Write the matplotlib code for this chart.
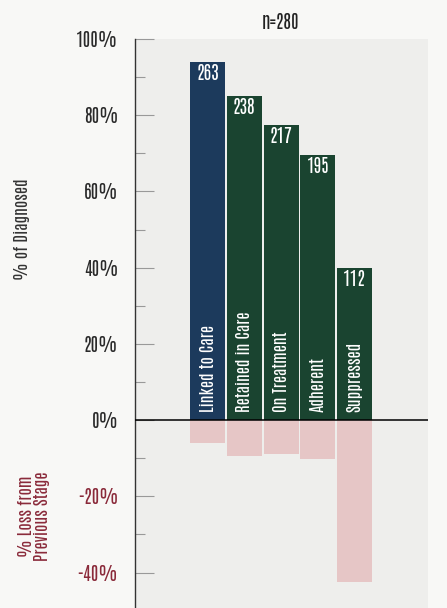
import matplotlib
matplotlib.use("Agg")
import matplotlib.pyplot as plt
from matplotlib.ticker import MultipleLocator, FuncFormatter

plt.rcParams['font.family'] = ['Antonio', 'Barlow Condensed', 'DejaVu Sans']

n_total = 280
stages = ["Linked to Care", "Retained in Care", "On Treatment", "Adherent", "Suppressed"]
counts = [263, 238, 217, 195, 112]
loss_pct = [-6.1, -9.5, -8.8, -10.1, -42.6]
bar_colors = ["#1c3a5c", "#1a4430", "#1a4430", "#1a4430", "#1a4430"]
loss_color = "#e6c6c6"
red_text = "#8a2a3a"

pct = [c / n_total * 100 for c in counts]

fig = plt.figure(figsize=(4.47, 6.08), dpi=100)
fig.patch.set_facecolor("#f8f8f6")
ax = fig.add_axes([135 / 447, 0, (428 - 135) / 447, (608 - 39) / 608])
ax.set_facecolor("#eeeeec")

x = range(len(stages))
ax.bar(x, pct, width=0.95, color=bar_colors, zorder=2)
ax.bar(x, loss_pct, width=0.95, color=loss_color, zorder=2)

for i, (p, c, s) in enumerate(zip(pct, counts, stages)):
    ax.text(i, p - 0.6, str(c), ha="center", va="top", color="white",
            fontsize=13, fontweight="bold", zorder=3)
    ax.text(i, 2.2, s, ha="center", va="bottom", rotation=90, color="white",
            fontsize=12, zorder=3)

ax.axhline(0, color="black", lw=1.1, zorder=3)

ax.set_xlim(-1.97, 5.99)
ax.set_ylim(-49.3, 100)
ax.set_xticks([])
ax.yaxis.set_major_locator(MultipleLocator(20))
ax.yaxis.set_minor_locator(MultipleLocator(10))
ax.yaxis.set_major_formatter(FuncFormatter(lambda v, _: f"{v:.0f}%"))
ax.tick_params(axis="y", which="major", direction="in", length=14, width=0.8,
               color="#999999", pad=12, labelsize=13)
ax.tick_params(axis="y", which="minor", direction="in", length=7, width=0.8,
               color="#999999")
for lbl, v in zip(ax.get_yticklabels(), ax.get_yticks()):
    if v < 0:
        lbl.set_color(red_text)
    else:
        lbl.set_color("#2a2a2a")

for side in ["top", "right", "bottom"]:
    ax.spines[side].set_visible(False)
ax.spines["left"].set_color("#333333")
ax.spines["left"].set_linewidth(1)

fig.text(22 / 447, 1 - 229 / 608, "% of Diagnosed", rotation=90,
         ha="center", va="center", fontsize=12, color="#333333")
fig.text(34 / 447, 1 - 516 / 608, "% Loss from\nPrevious Stage", rotation=90,
         ha="center", va="center", fontsize=12, color=red_text, linespacing=1.05)
fig.text(281 / 447, 1 - 22 / 608, "n=280", ha="center", va="center",
         fontsize=13, color="#222222")

fig.savefig("out.png", dpi=100, facecolor=fig.get_facecolor())
